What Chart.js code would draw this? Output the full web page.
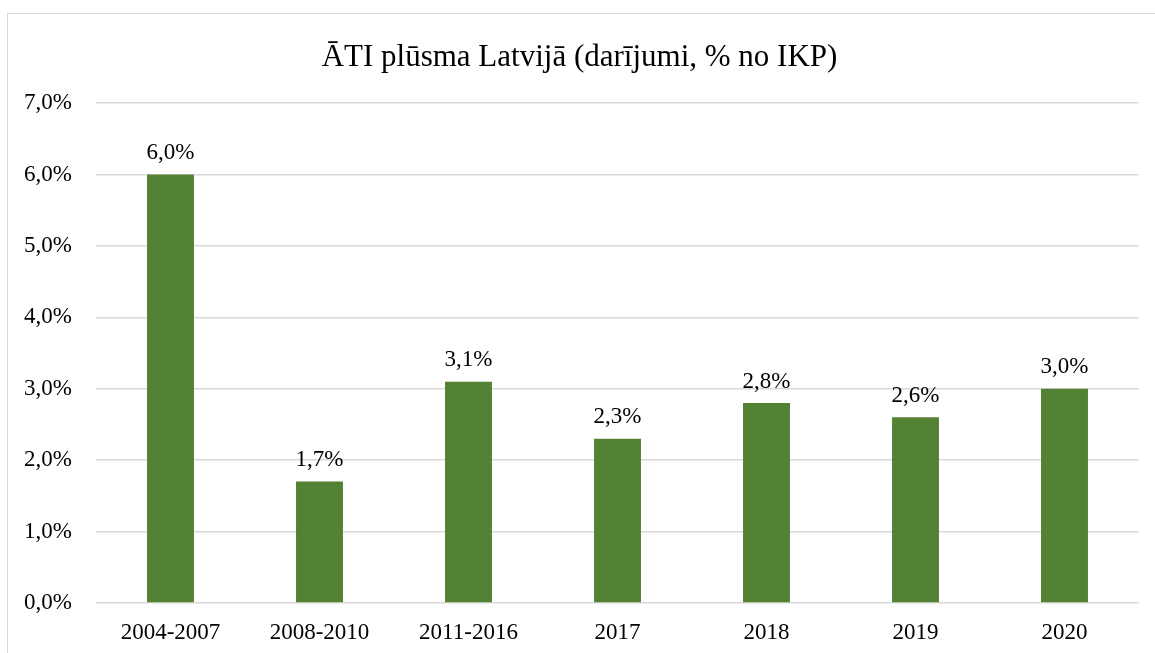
<!DOCTYPE html>
<html>
<head>
<meta charset="utf-8">
<script src="https://cdn.jsdelivr.net/npm/chart.js@4"></script>
<style>
  html, body { margin: 0; padding: 0; background: #fff; }
  #wrap { position: relative; width: 1155px; height: 653px; }
  #frame { position: absolute; left: 7px; top: 13px; width: 1160px; height: 660px; border: 1px solid #d9d9d9; box-sizing: border-box; }
  canvas { position: absolute; left: 0; top: 0; }
</style>
</head>
<body>
<div id="wrap">
  <div id="frame"></div>
  <canvas id="c" width="1155" height="653"></canvas>
</div>
<script>
const categories = ["2004-2007", "2008-2010", "2011-2016", "2017", "2018", "2019", "2020"];
const values = [6.0, 1.7, 3.1, 2.3, 2.8, 2.6, 3.0];
const yTicks = [0, 1, 2, 3, 4, 5, 6, 7];
const titleText = "ĀTI plūsma Latvijā (darījumi, % no IKP)";

const FONT = "'Liberation Serif', 'Times New Roman', serif";
const fmt = v => v.toFixed(1).replace('.', ',') + '%';

const labelPlugin = {
  id: 'barLabels',
  afterDatasetsDraw(chart) {
    const ctx = chart.ctx;
    const meta = chart.getDatasetMeta(0);
    ctx.save();
    ctx.font = "23px " + FONT;
    ctx.fillStyle = '#000';
    ctx.textAlign = 'center';
    ctx.textBaseline = 'bottom';
    meta.data.forEach((bar, i) => {
      ctx.fillText(fmt(values[i]), bar.x, bar.y - 10);
    });
    ctx.restore();
  }
};

new Chart(document.getElementById('c'), {
  type: 'bar',
  data: {
    labels: categories,
    datasets: [{
      data: values,
      backgroundColor: '#548235',
      borderWidth: 0,
      categoryPercentage: 1,
      barPercentage: 0.315
    }]
  },
  options: {
    responsive: false,
    animation: false,
    devicePixelRatio: 1,
    layout: { padding: { left: 20, right: 16, top: 13, bottom: 0 } },
    plugins: {
      legend: { display: false },
      tooltip: { enabled: false },
      title: {
        display: true,
        text: titleText,
        color: '#000',
        font: { family: FONT, size: 31, weight: 'normal' },
        padding: { top: 26, bottom: 27 }
      }
    },
    scales: {
      x: {
        grid: { display: false, drawTicks: false },
        border: { display: false },
        ticks: { color: '#000', font: { family: FONT, size: 23 }, padding: 16, maxRotation: 0 },
        afterFit(s) { s.height = 50; }
      },
      y: {
        min: 0, max: 7,
        afterBuildTicks(s) { s.ticks = yTicks.map(v => ({ value: v })); },
        grid: { color: '#d9d9d9', lineWidth: 1.5, drawTicks: false },
        border: { display: false },
        ticks: { color: '#000', font: { family: FONT, size: 23 }, padding: 24, callback: v => fmt(v) },
        afterFit(s) { s.width = 76; }
      }
    }
  },
  plugins: [labelPlugin]
});
</script>
</body>
</html>
